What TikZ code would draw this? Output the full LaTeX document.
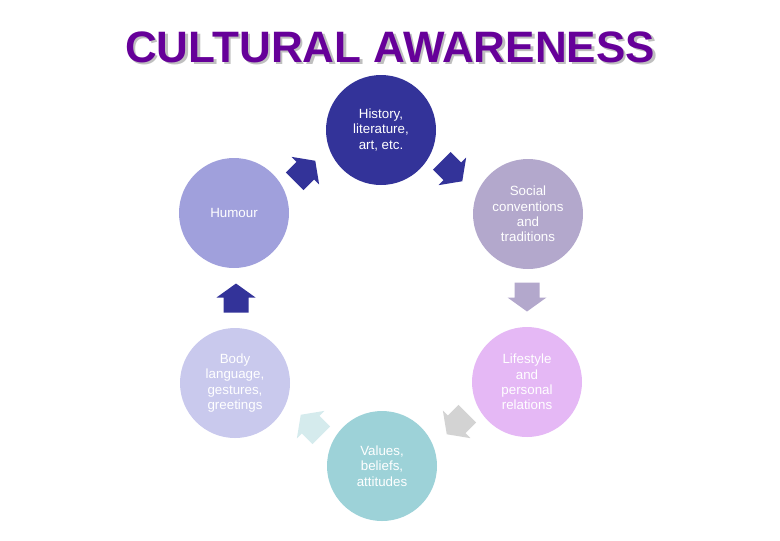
\documentclass[tikz,border=0pt]{standalone}
\usepackage{fontspec}
\setmainfont{Liberation Sans}
\definecolor{cTop}{HTML}{333399}
\definecolor{cHum}{HTML}{A0A0DC}
\definecolor{cSoc}{HTML}{B3A8CC}
\definecolor{cLife}{HTML}{E5B8F5}
\definecolor{cBody}{HTML}{C9C9ED}
\definecolor{cVal}{HTML}{9DD2D8}
\definecolor{cGray}{HTML}{D3D3D3}
\definecolor{cPale}{HTML}{D5EBED}
\definecolor{cTitle}{HTML}{660099}
\tikzset{
  bubble/.style={circle, minimum size=82.5pt, inner sep=0pt, text=white,
    align=center, font=\fontsize{10}{11.5}\selectfont},
}
\newcommand{\blockarrow}[4]{%
  \begin{scope}[shift={#1}, rotate=#2]
    \fill[#3] (-14.5,-12.5) -- (0.5,-12.5) -- (0.5,-19.5) -- (14.5,0) -- (0.5,19.5) -- (0.5,12.5) -- (-14.5,12.5) -- cycle;
    \coordinate (#4) at (0,0);
  \end{scope}}
\begin{document}
\begin{tikzpicture}[x=0.75pt,y=-0.75pt]
\useasboundingbox (0,0) rectangle (780,540);
% title with shadow
\node (title) [text=cTitle, font=\bfseries\fontsize{33}{36}\selectfont, anchor=base] at (390,62)
  {\makebox[0pt][l]{\hspace{1.9pt}\raisebox{-1.9pt}{\textcolor{gray!50}{CULTURAL AWARENESS}}}CULTURAL AWARENESS};
% circles
\node (hist) [bubble, fill=cTop] at (381,130) {History,\\literature,\\art, etc.};
\node (soc) [bubble, fill=cSoc] at (528,214) {Social\\conventions\\and\\traditions};
\node (life) [bubble, fill=cLife] at (527,382) {Lifestyle\\and\\personal\\relations};
\node (val) [bubble, fill=cVal] at (382,466) {Values,\\beliefs,\\attitudes};
\node (body) [bubble, fill=cBody] at (235,383) {Body\\language,\\gestures,\\greetings};
\node (hum) [bubble, fill=cHum] at (234,213) {Humour};
% block arrows
\blockarrow{(452,171)}{-45}{cTop}{a1}
\blockarrow{(527,297)}{-90}{cSoc}{a2}
\blockarrow{(457,424)}{-135}{cGray}{a3}
\blockarrow{(311,425)}{135}{cPale}{a4}
\blockarrow{(236,298)}{90}{cTop}{a5}
\blockarrow{(305,171)}{45}{cTop}{a6}
\end{tikzpicture}
\end{document}
